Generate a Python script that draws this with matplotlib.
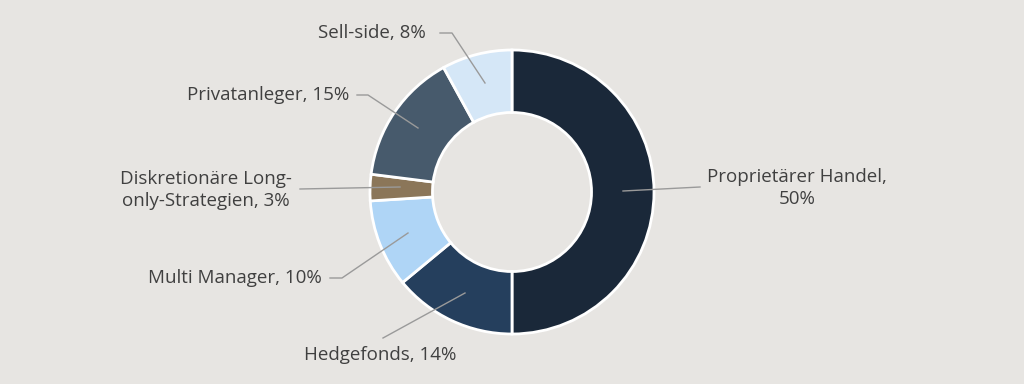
import matplotlib
matplotlib.use("Agg")
import matplotlib.pyplot as plt

labels = ["Proprietärer Handel,\n50%", "Hedgefonds, 14%", "Multi Manager, 10%",
          "Diskretionäre Long-\nonly-Strategien, 3%", "Privatanleger, 15%", "Sell-side, 8%"]
values = [50, 14, 10, 3, 15, 8]
colors = ["#1A2839", "#253F5D", "#AFD5F6", "#8B7659", "#475A6C", "#D5E7F7"]

plt.rcParams['font.family'] = ['Open Sans', 'DejaVu Sans']
bg = "#E7E5E2"
fig = plt.figure(figsize=(10.24, 3.84), dpi=100, facecolor=bg)
ax = fig.add_axes([0, 0, 1, 1])
ax.set_facecolor(bg)
R = 142.0

wedges, _ = ax.pie(values, colors=colors, startangle=90, counterclock=False,
                   radius=1.0, wedgeprops=dict(width=0.44, edgecolor='white', linewidth=2))
ax.set_xlim(-512 / R, 512 / R)
ax.set_ylim(-192 / R, 192 / R)
ax.set_aspect('equal')
ax.axis('off')

def P(px, py):
    return ((px - 512) / R, (192 - py) / R)

layout = [
    ((797, 188), (623, 191), None, (700, 187)),
    ((380, 355), (465, 293), None, (383, 338)),
    ((235, 278), (408, 233), (342, 278), (330, 278)),
    ((206, 190), (400, 187), None, (300, 189)),
    ((268, 95), (418, 128), (368, 95), (357, 95)),
    ((372, 33), (485, 83), (452, 33), (440, 33)),
]
for lab, (tp, wp, elbow, start) in zip(labels, layout):
    ax.text(*P(*tp), lab, ha='center', va='center', fontsize=13.5, color='#404040',
            linespacing=1.25)
    pts = [start] + ([elbow] if elbow else []) + [wp]
    xs = [P(*p)[0] for p in pts]
    ys = [P(*p)[1] for p in pts]
    ax.plot(xs, ys, color='#9A9A9A', lw=1)

fig.savefig("out.png", dpi=100, facecolor=bg)
